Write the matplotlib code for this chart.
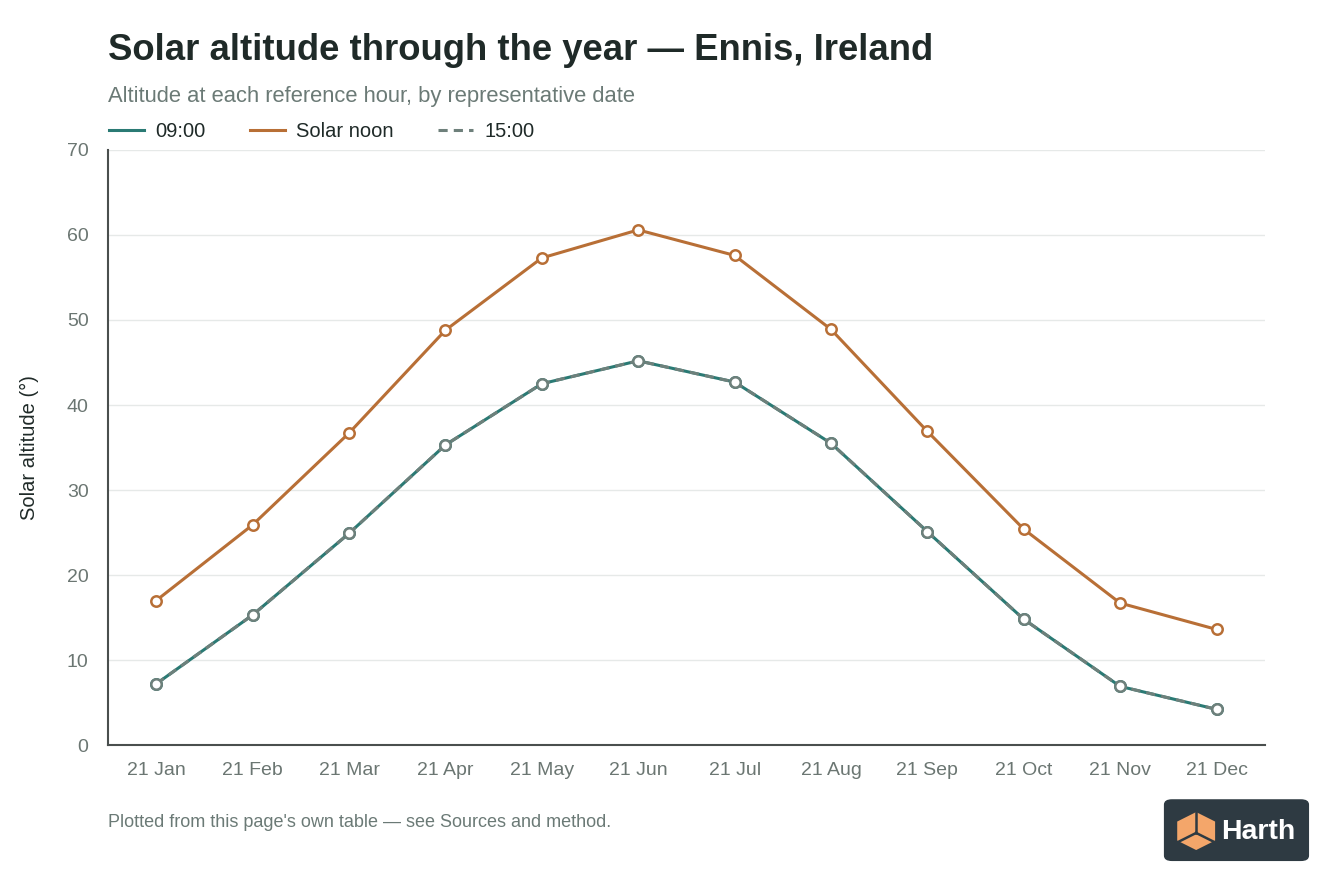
import numpy as np
import matplotlib
matplotlib.use("Agg")
import matplotlib.pyplot as plt
from matplotlib.patches import FancyBboxPatch, Polygon

plt.rcParams['font.family'] = ['Liberation Sans', 'DejaVu Sans']

dates = ['21 Jan', '21 Feb', '21 Mar', '21 Apr', '21 May', '21 Jun',
         '21 Jul', '21 Aug', '21 Sep', '21 Oct', '21 Nov', '21 Dec']
alt_0900 = [7.2, 15.3, 24.9, 35.3, 42.5, 45.2, 42.7, 35.5, 25.1, 14.8, 6.9, 4.2]
alt_noon = [17.0, 25.9, 36.7, 48.8, 57.3, 60.6, 57.6, 48.9, 36.9, 25.4, 16.7, 13.6]
alt_1500 = [7.2, 15.3, 24.9, 35.3, 42.5, 45.2, 42.7, 35.5, 25.1, 14.8, 6.9, 4.2]
yticks = [0, 10, 20, 30, 40, 50, 60, 70]

teal = '#2a7a74'
orange = '#b86f36'
grey = '#6e807b'

fig = plt.figure(figsize=(13.44, 8.96), dpi=100)
ax = fig.add_axes([0.0804, 0.1685, 0.8606, 0.6641])

x = np.arange(len(dates))
ax.plot(x, alt_0900, color=teal, lw=2.2, marker='o', ms=7.5, mfc='white',
        mec=teal, mew=1.8, label='09:00', zorder=3)
ax.plot(x, alt_noon, color=orange, lw=2.2, marker='o', ms=7.5, mfc='white',
        mec=orange, mew=1.8, label='Solar noon', zorder=3)
ax.plot(x, alt_1500, color=grey, lw=2.2, ls=(0, (3, 2)), marker='o', ms=7.5,
        mfc='white', mec=grey, mew=1.8, label='15:00', zorder=4)

ax.set_xlim(-0.5, len(dates) - 0.5)
ax.set_ylim(0, 70)
ax.set_yticks(yticks)
ax.set_xticks(x)
ax.set_xticklabels(dates)
ax.tick_params(length=0, labelsize=14, colors='#6b7672', pad=12)
ax.tick_params(axis='y', pad=14)
ax.grid(axis='y', color='#e6e9e8', lw=1)
ax.set_axisbelow(True)
for s in ['top', 'right']:
    ax.spines[s].set_visible(False)
for s in ['left', 'bottom']:
    ax.spines[s].set_color('#4a4f4e')
    ax.spines[s].set_linewidth(1.5)
ax.set_ylabel('Solar altitude (°)', fontsize=14.5, color='#1f2a28', labelpad=20)

fig.text(0.0804, 0.944, 'Solar altitude through the year — Ennis, Ireland',
         fontsize=26.3, fontweight='bold', color='#1f2a28', va='center')
fig.text(0.0804, 0.892, 'Altitude at each reference hour, by representative date',
         fontsize=15.8, color='#6b7a76', va='center')

leg = fig.legend(handles=ax.get_lines(), loc='center left', bbox_to_anchor=(0.0675, 0.853),
                 ncol=3, frameon=False, fontsize=14.5, handlelength=1.75,
                 columnspacing=2.2, handletextpad=0.55)
for h in leg.get_lines():
    h.set_marker('')
for t in leg.get_texts():
    t.set_color('#1f2a28')

fig.text(0.0804, 0.082, "Plotted from this page's own table — see Sources and method.",
         fontsize=13, color='#6b7a76', va='center')

# logo badge
badge = FancyBboxPatch((0.866, 0.039), 0.108, 0.069, boxstyle='round,pad=0,rounding_size=0.006',
                       transform=fig.transFigure, facecolor='#2e3a42', edgecolor='none')
fig.patches.append(badge)
cx, cy = 0.890, 0.0725
w, h = 0.0141, 0.0212
cube = Polygon([(cx - w, cy + h * 0.5), (cx, cy + h), (cx + w, cy + h * 0.5),
                (cx + w, cy - h * 0.5), (cx, cy - h), (cx - w, cy - h * 0.5)],
               closed=True, transform=fig.transFigure, facecolor='#f4a66a', edgecolor='none')
fig.patches.append(cube)
for seg in [[(cx, cy + h), (cx, cy - h * 0.1)], [(cx, cy - h * 0.1), (cx - w, cy - h * 0.6)],
            [(cx, cy - h * 0.1), (cx + w, cy - h * 0.6)]]:
    fig.lines.append(plt.Line2D([p[0] for p in seg], [p[1] for p in seg],
                                transform=fig.transFigure, color='#2e3a42', lw=1.8))
fig.text(0.9085, 0.0715, 'Harth', fontsize=20.5, fontweight='bold', color='white', va='center')

fig.savefig('out.png', dpi=100, facecolor='white')
